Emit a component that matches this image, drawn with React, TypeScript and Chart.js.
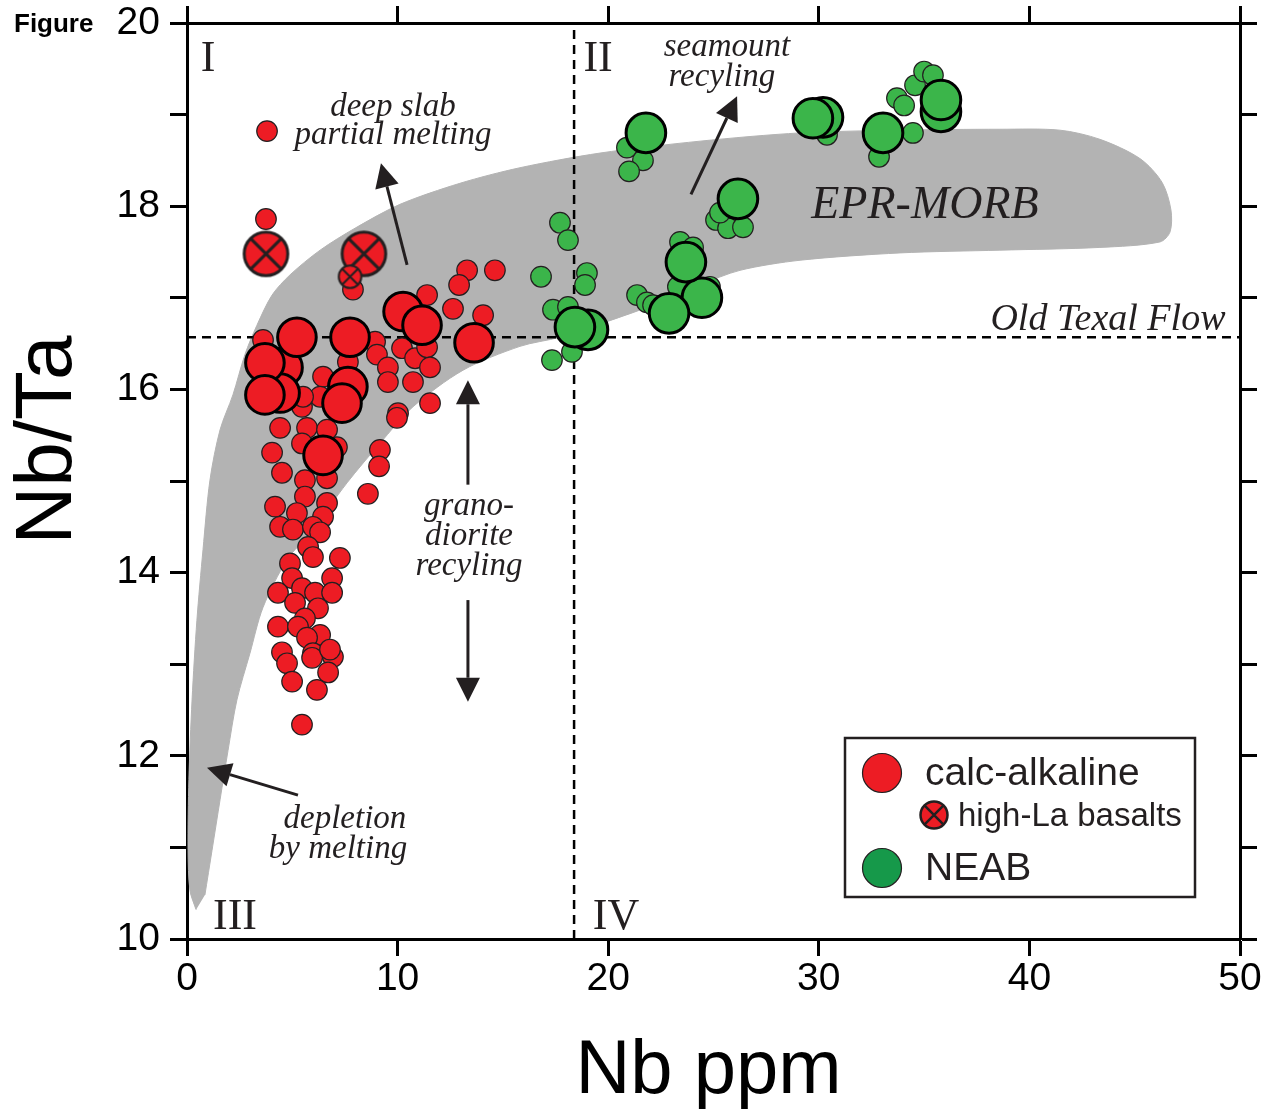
import React, { useEffect, useRef } from 'react';
import { Chart, registerables } from 'chart.js';

Chart.register(...registerables);

// ---------- Data ----------
const xTickValues = [0, 10, 20, 30, 40, 50];
const yTickValues = [10, 12, 14, 16, 18, 20];

// EPR-MORB field outline (Nb ppm, Nb/Ta)
const bandNb = [0.43, 0.14, 0.05, 0.09, 0.24, 0.47, 0.76, 1.09, 1.57, 2.18, 2.75, 3.32, 4.04, 4.89, 6.32, 7.98, 10.11, 12.96, 15.81, 19.61, 24.36, 29.11, 33.86, 38.6, 41.45, 43.35, 45.25, 46.3, 46.72, 46.68, 46.2, 43.35, 38.6, 33.86, 29.11, 26.26, 24.36, 22.13, 19.94, 17.71, 15.81, 13.11, 10.73, 9.16, 7.6, 5.84, 4.75, 3.61, 2.99, 2.37, 1.95, 1.57, 1.19, 0.85];
const bandRatio = [10.32, 10.53, 10.97, 11.74, 12.61, 13.48, 14.25, 15.01, 15.56, 15.94, 16.38, 16.7, 17.03, 17.25, 17.52, 17.76, 18.02, 18.25, 18.42, 18.58, 18.71, 18.8, 18.83, 18.84, 18.83, 18.73, 18.52, 18.26, 17.96, 17.72, 17.61, 17.55, 17.52, 17.49, 17.41, 17.3, 17.14, 16.92, 16.74, 16.57, 16.47, 16.21, 15.81, 15.41, 14.98, 14.43, 14.14, 13.62, 13.12, 12.61, 12.06, 11.52, 10.97, 10.48];

const oldTexalFlowRatio = 16.57;
const quadrantDividerNb = 18.38;

// calc-alkaline, small symbols
const calcSmallNb = [3.8, 3.75, 7.88, 13.3, 14.62, 12.92, 11.4, 12.63, 14.06, 3.61, 8.93, 9.02, 7.64, 10.21, 10.83, 11.4, 9.54, 11.54, 9.54, 10.73, 6.46, 11.54, 10.02, 9.97, 6.32, 5.46, 5.51, 4.42, 5.7, 6.65, 5.46, 9.16, 9.12, 4.04, 4.51, 5.6, 6.65, 7.12, 8.59, 4.18, 5.6, 6.65, 5.22, 6.46, 4.42, 5.03, 5.98, 6.32, 5.75, 5.98, 7.26, 4.89, 4.99, 4.32, 5.46, 6.08, 6.89, 6.89, 5.13, 6.22, 5.6, 4.32, 6.32, 5.27, 5.7, 4.51, 4.75, 5.98, 5.94, 6.93, 6.79, 6.7, 4.99, 6.17, 5.46];
const calcSmallRatio = [18.82, 17.86, 17.09, 17.3, 17.3, 17.14, 17.03, 16.88, 16.81, 16.54, 16.52, 16.38, 16.3, 16.45, 16.34, 16.46, 16.24, 16.24, 16.08, 16.08, 16.14, 15.85, 15.74, 15.69, 15.92, 15.81, 15.92, 15.58, 15.58, 15.56, 15.41, 15.34, 15.16, 15.31, 15.09, 15.01, 15.03, 15.37, 14.86, 14.72, 14.83, 14.76, 14.65, 14.61, 14.5, 14.47, 14.5, 14.44, 14.28, 14.17, 14.16, 14.1, 13.94, 13.78, 13.83, 13.78, 13.94, 13.78, 13.67, 13.61, 13.5, 13.41, 13.32, 13.41, 13.29, 13.13, 13.01, 13.12, 13.07, 13.08, 13.16, 12.91, 12.81, 12.72, 12.34];

// calc-alkaline, large symbols
const calcLargeNb = [4.56, 4.42, 7.64, 5.22, 7.74, 10.26, 11.16, 13.63, 3.7, 3.7, 7.36, 6.46];
const calcLargeRatio = [16.24, 15.96, 16.03, 16.57, 16.57, 16.85, 16.7, 16.51, 16.29, 15.94, 15.85, 15.28];

// high-La basalts
const highLaNb = [3.75, 8.4, 7.74];
const highLaRatio = [17.48, 17.48, 17.23];
const highLaLarge = [true, true, false];

// NEAB, small symbols
const neabSmallNb = [17.71, 18.09, 16.81, 18.99, 18.9, 17.38, 18.09, 18.28, 17.33, 21.37, 21.84, 22.13, 23.41, 24.03, 23.31, 24.83, 20.89, 21.65, 20.99, 25.12, 25.69, 26.4, 25.31, 30.39, 32.86, 34.47, 33.71, 34.05, 34.57, 35.0, 35.42];
const neabSmallRatio = [17.82, 17.63, 17.23, 17.27, 17.14, 16.87, 16.9, 16.41, 16.32, 17.03, 16.95, 16.92, 17.61, 17.55, 17.12, 17.12, 18.64, 18.5, 18.38, 17.85, 17.76, 17.77, 17.93, 18.78, 18.54, 18.8, 19.18, 19.1, 19.32, 19.47, 19.43];

// NEAB, large symbols
const neabLargeNb = [19.04, 18.42, 24.45, 22.89, 23.69, 26.16, 21.79, 30.2, 29.72, 33.05, 35.8, 35.8];
const neabLargeRatio = [16.65, 16.68, 17.0, 16.83, 17.39, 18.08, 18.8, 18.97, 18.96, 18.8, 19.03, 19.16];

// Annotations (data coordinates)
const annotationTexts = [
  { text: 'deep slab', nb: 9.78, ratio: 19.08, size: 33 },
  { text: 'partial melting', nb: 9.78, ratio: 18.77, size: 33 },
  { text: 'seamount', nb: 25.64, ratio: 19.73, size: 33 },
  { text: 'recyling', nb: 25.4, ratio: 19.41, size: 33 },
  { text: 'EPR-MORB', nb: 35.04, ratio: 18.0, size: 46 },
  { text: 'Old Texal Flow', nb: 43.73, ratio: 16.76, size: 38 },
  { text: 'grano-', nb: 13.39, ratio: 14.72, size: 33 },
  { text: 'diorite', nb: 13.39, ratio: 14.4, size: 33 },
  { text: 'recyling', nb: 13.39, ratio: 14.07, size: 33 },
  { text: 'depletion', nb: 7.5, ratio: 11.31, size: 33 },
  { text: 'by melting', nb: 7.17, ratio: 10.98, size: 33 },
];
const quadrantLabels = ['I', 'II', 'III', 'IV'];
const quadrantNb = [1.0, 19.52, 2.28, 20.37];
const quadrantRatio = [19.6, 19.6, 10.24, 10.24];

const arrows = [
  { fromNb: 10.45, fromRatio: 17.36, toNb: 9.21, toRatio: 18.47 },
  { fromNb: 23.93, fromRatio: 18.13, toNb: 26.12, toRatio: 19.2 },
  { fromNb: 13.34, fromRatio: 14.96, toNb: 13.34, toRatio: 16.1 },
  { fromNb: 13.34, fromRatio: 13.7, toNb: 13.34, toRatio: 12.59 },
  { fromNb: 5.27, fromRatio: 11.57, toNb: 0.95, toRatio: 11.87 },
];

// ---------- Styles ----------
const RED = '#ED1C24';
const GREEN = '#3BB54A';
const LEGEND_GREEN = '#16994A';
const OUTLINE = '#231F20';
const BAND = '#B3B3B3';
const SANS = "'Liberation Sans', Arial, sans-serif";
const SERIF = "'Liberation Serif', 'Times New Roman', serif";

const zip = (xs: number[], ys: number[]) => xs.map((x, i) => ({ x, y: ys[i] }));

function makeCrossCircle(r: number, lw: number): HTMLCanvasElement {
  const size = Math.ceil(2 * r + lw + 4);
  const c = document.createElement('canvas');
  c.width = size;
  c.height = size;
  const g = c.getContext('2d') as CanvasRenderingContext2D;
  const m = size / 2;
  drawCrossCircle(g, m, m, r, lw);
  return c;
}

function drawCrossCircle(g: CanvasRenderingContext2D, cx: number, cy: number, r: number, lw: number) {
  g.save();
  g.beginPath();
  g.arc(cx, cy, r, 0, Math.PI * 2);
  g.fillStyle = RED;
  g.fill();
  g.lineWidth = lw;
  g.strokeStyle = OUTLINE;
  const d = r * Math.SQRT1_2;
  g.beginPath();
  g.moveTo(cx - d, cy - d);
  g.lineTo(cx + d, cy + d);
  g.moveTo(cx + d, cy - d);
  g.lineTo(cx - d, cy + d);
  g.stroke();
  g.beginPath();
  g.arc(cx, cy, r, 0, Math.PI * 2);
  g.stroke();
  g.restore();
}

function drawArrow(ctx: CanvasRenderingContext2D, x1: number, y1: number, x2: number, y2: number) {
  const ang = Math.atan2(y2 - y1, x2 - x1);
  const headLen = 24;
  const headW = 12;
  const bx = x2 - headLen * Math.cos(ang);
  const by = y2 - headLen * Math.sin(ang);
  ctx.save();
  ctx.strokeStyle = OUTLINE;
  ctx.fillStyle = OUTLINE;
  ctx.lineWidth = 3;
  ctx.beginPath();
  ctx.moveTo(x1, y1);
  ctx.lineTo(bx, by);
  ctx.stroke();
  ctx.beginPath();
  ctx.moveTo(x2, y2);
  ctx.lineTo(bx + headW * Math.sin(ang), by - headW * Math.cos(ang));
  ctx.lineTo(bx - headW * Math.sin(ang), by + headW * Math.cos(ang));
  ctx.closePath();
  ctx.fill();
  ctx.restore();
}

const annotationPlugin = {
  id: 'annotations',
  afterDatasetDraw(chart: any, args: any) {
    if (args.index !== 0) return;
    const ctx: CanvasRenderingContext2D = chart.ctx;
    const xs = chart.scales.x;
    const ys = chart.scales.y;
    ctx.save();
    ctx.fillStyle = OUTLINE;
    ctx.textAlign = 'center';
    ctx.textBaseline = 'middle';
    annotationTexts.forEach((a) => {
      ctx.font = `italic ${a.size}px ${SERIF}`;
      ctx.fillText(a.text, xs.getPixelForValue(a.nb), ys.getPixelForValue(a.ratio));
    });
    ctx.font = `44px ${SERIF}`;
    quadrantLabels.forEach((t, i) => {
      ctx.fillText(t, xs.getPixelForValue(quadrantNb[i]), ys.getPixelForValue(quadrantRatio[i]));
    });
    ctx.restore();
    arrows.forEach((a) =>
      drawArrow(
        ctx,
        xs.getPixelForValue(a.fromNb),
        ys.getPixelForValue(a.fromRatio),
        xs.getPixelForValue(a.toNb),
        ys.getPixelForValue(a.toRatio)
      )
    );
  },
  afterDraw(chart: any) {
    const ctx: CanvasRenderingContext2D = chart.ctx;
    const area = chart.chartArea;
    ctx.save();
    ctx.fillStyle = '#000';
    // Figure tag
    ctx.font = `bold 26px ${SANS}`;
    ctx.textAlign = 'left';
    ctx.textBaseline = 'alphabetic';
    ctx.fillText('Figure', 14, 32);
    // axis titles
    ctx.font = `76px ${SANS}`;
    ctx.textAlign = 'center';
    ctx.fillText('Nb ppm', (area.left + area.right) / 2 - 5, 1093);
    ctx.save();
    ctx.font = `80px ${SANS}`;
    ctx.translate(71, 440);
    ctx.rotate(-Math.PI / 2);
    ctx.fillText('Nb/Ta', 0, 0);
    ctx.restore();

    // legend box
    const bx = area.right - 395;
    const by = area.bottom - 201;
    ctx.lineWidth = 2.5;
    ctx.strokeStyle = OUTLINE;
    ctx.fillStyle = '#fff';
    ctx.fillRect(bx, by, 350, 159);
    ctx.strokeRect(bx, by, 350, 159);

    ctx.beginPath();
    ctx.arc(bx + 37, by + 35, 19.5, 0, Math.PI * 2);
    ctx.fillStyle = RED;
    ctx.fill();
    ctx.lineWidth = 1.2;
    ctx.stroke();

    drawCrossCircle(ctx, bx + 89, by + 77, 13.5, 2.5);

    ctx.beginPath();
    ctx.arc(bx + 37, by + 130, 19.5, 0, Math.PI * 2);
    ctx.fillStyle = LEGEND_GREEN;
    ctx.fill();
    ctx.lineWidth = 1.2;
    ctx.stroke();

    ctx.fillStyle = OUTLINE;
    ctx.textAlign = 'left';
    ctx.textBaseline = 'alphabetic';
    ctx.font = `39px ${SANS}`;
    ctx.fillText('calc-alkaline', bx + 80, by + 47);
    ctx.fillText('NEAB', bx + 80, by + 142);
    ctx.font = `33px ${SANS}`;
    ctx.fillText('high-La basalts', bx + 113, by + 88);
    ctx.restore();
  },
};

export default function App() {
  const canvasRef = useRef<HTMLCanvasElement | null>(null);

  useEffect(() => {
    const canvas = canvasRef.current;
    if (!canvas) return;
    const bigX = makeCrossCircle(21.8, 3);
    const smallX = makeCrossCircle(11.3, 2);

    const tickFont = { family: SANS, size: 39, lineHeight: 1 };
    const gridOpts = {
      drawOnChartArea: false,
      drawTicks: true,
      tickLength: 17,
      tickWidth: 3,
      tickColor: '#000',
      color: '#000',
    };
    const borderOpts = { display: true, width: 3, color: '#000' };
    const fixSize = (prop: 'width' | 'height', size: number) => (s: any) => {
      s[prop] = size;
      s.paddingTop = 0;
      s.paddingBottom = 0;
      s.paddingLeft = 0;
      s.paddingRight = 0;
    };

    const chart = new Chart(canvas, {
      type: 'scatter',
      data: {
        datasets: [
          {
            type: 'line',
            label: 'EPR-MORB',
            data: zip(bandNb, bandRatio),
            fill: 'shape',
            backgroundColor: BAND,
            borderColor: BAND,
            borderWidth: 1,
            pointRadius: 0,
            tension: 0.3,
            order: 10,
          },
          {
            type: 'line',
            label: 'Old Texal Flow',
            data: [
              { x: 0, y: oldTexalFlowRatio },
              { x: 50, y: oldTexalFlowRatio },
            ],
            borderColor: '#000',
            borderWidth: 2.5,
            borderDash: [9, 6],
            pointRadius: 0,
            fill: false,
            order: 9,
          },
          {
            type: 'line',
            label: 'divider',
            data: [
              { x: quadrantDividerNb, y: 10 },
              { x: quadrantDividerNb, y: 20 },
            ],
            borderColor: '#000',
            borderWidth: 2.5,
            borderDash: [9, 6],
            pointRadius: 0,
            fill: false,
            order: 9,
          },
          {
            label: 'calc-alkaline',
            data: zip(calcSmallNb, calcSmallRatio),
            pointRadius: 10.3,
            pointBackgroundColor: RED,
            pointBorderColor: OUTLINE,
            pointBorderWidth: 1.2,
            order: 8,
          },
          {
            label: 'calc-alkaline large',
            data: zip(calcLargeNb, calcLargeRatio),
            pointRadius: 19.3,
            pointBackgroundColor: RED,
            pointBorderColor: '#000',
            pointBorderWidth: 3,
            order: 7,
          },
          {
            label: 'high-La basalts',
            data: zip(highLaNb, highLaRatio),
            pointStyle: highLaLarge.map((b) => (b ? bigX : smallX)),
            pointRadius: highLaLarge.map((b) => (b ? 22 : 11)),
            order: 6,
          },
          {
            label: 'NEAB',
            data: zip(neabSmallNb, neabSmallRatio),
            pointRadius: 10.3,
            pointBackgroundColor: GREEN,
            pointBorderColor: OUTLINE,
            pointBorderWidth: 1.2,
            order: 5,
          },
          {
            label: 'NEAB large',
            data: zip(neabLargeNb, neabLargeRatio),
            pointRadius: 19.8,
            pointBackgroundColor: GREEN,
            pointBorderColor: '#000',
            pointBorderWidth: 3,
            order: 4,
          },
        ] as any,
      },
      options: {
        animation: false,
        responsive: false,
        maintainAspectRatio: false,
        devicePixelRatio: 1,
        layout: { padding: 0, autoPadding: false },
        events: [],
        plugins: {
          legend: { display: false },
          tooltip: { enabled: false },
          title: { display: false },
        },
        scales: {
          x: {
            type: 'linear',
            position: 'bottom',
            min: 0,
            max: 50,
            afterBuildTicks: (s: any) => {
              s.ticks = xTickValues.map((v) => ({ value: v }));
            },
            ticks: { font: tickFont, color: '#000', padding: 4, maxRotation: 0, autoSkip: false },
            grid: gridOpts,
            border: borderOpts,
            afterFit: fixSize('height', 170),
          },
          x2: {
            type: 'linear',
            position: 'top',
            min: 0,
            max: 50,
            afterBuildTicks: (s: any) => {
              s.ticks = xTickValues.map((v) => ({ value: v }));
            },
            ticks: { callback: () => '', autoSkip: false },
            grid: gridOpts,
            border: borderOpts,
            afterFit: fixSize('height', 23),
          },
          y: {
            type: 'linear',
            position: 'left',
            min: 10,
            max: 20,
            ticks: {
              stepSize: 1,
              autoSkip: false,
              font: tickFont,
              color: '#000',
              padding: 10,
              callback: (v: any) => (yTickValues.includes(Number(v)) ? String(v) : ''),
            },
            grid: gridOpts,
            border: borderOpts,
            afterFit: fixSize('width', 187),
          },
          y2: {
            type: 'linear',
            position: 'right',
            min: 10,
            max: 20,
            ticks: { stepSize: 1, autoSkip: false, callback: () => '' },
            grid: gridOpts,
            border: borderOpts,
            afterFit: fixSize('width', 25),
          },
        },
      } as any,
      plugins: [annotationPlugin],
    });

    return () => {
      chart.destroy();
    };
  }, []);

  return (
    <div style={{ position: 'absolute', left: 0, top: 0, width: 1265, height: 1109, background: '#fff' }}>
      <canvas ref={canvasRef} width={1265} height={1109} style={{ width: 1265, height: 1109, display: 'block' }} />
    </div>
  );
}
